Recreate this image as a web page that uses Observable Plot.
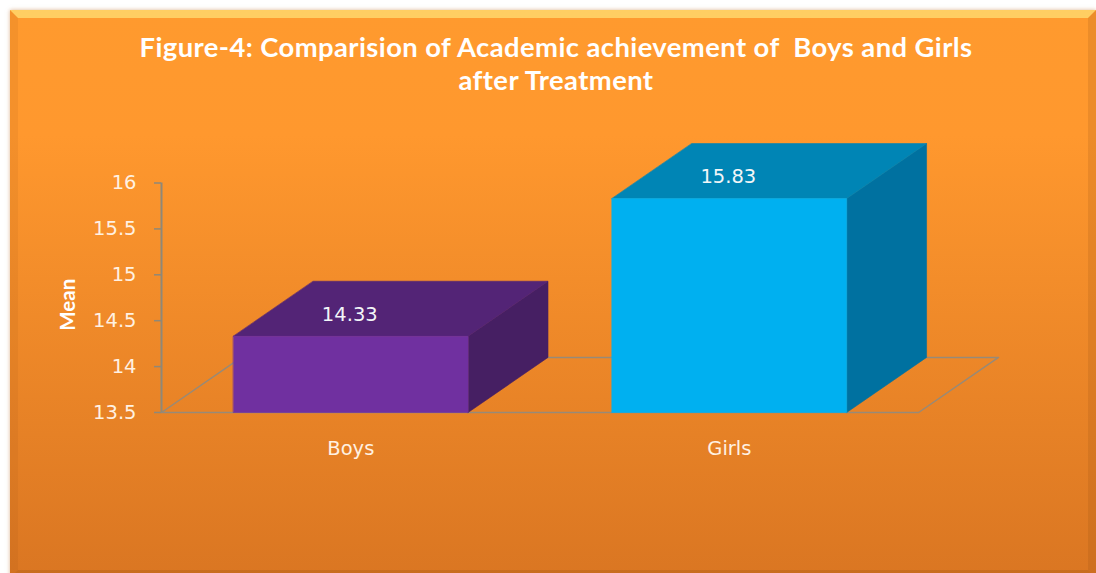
<!DOCTYPE html>
<html>
<head>
<meta charset="utf-8">
<script src="https://cdn.jsdelivr.net/npm/d3@7"></script>
<script src="https://cdn.jsdelivr.net/npm/@observablehq/plot@0.6"></script>
<style>
  html, body { margin: 0; padding: 0; width: 1096px; height: 573px; overflow: hidden; background: #fff; }
  #panel {
    position: absolute; left: 10px; top: 10px; width: 1086px; height: 568px; box-sizing: border-box;
    border-style: solid; border-width: 8px;
    border-top-color: rgba(255,238,130,.62);
    border-left-color: rgba(140,75,20,.10);
    border-right-color: rgba(140,75,20,.16);
    border-bottom-color: rgba(140,75,20,.22);
    background: linear-gradient(180deg, #ff9a2e 0%, #ff982e 22%, #da7622 100%) border-box;
    box-shadow: 0 0 4px rgba(190,120,60,.55);
  }
  #title {
    position: absolute; left: 16px; top: 30px; width: 1080px; text-align: center;
    font: 700 27.4px/33px Lato, sans-serif; color: #fff; white-space: pre; letter-spacing: .42px;
  }
  #chart { position: absolute; left: 0; top: 130px; }
  #chart svg { background: transparent; display: block; }
</style>
</head>
<body>
<div id="panel"></div>
<div id="title"></div>
<div id="chart"></div>
<script>
const titleLines = ["Figure-4: Comparision of Academic achievement of  Boys and Girls", "after Treatment"];
const categories = ["Boys", "Girls"];
const means = [14.33, 15.83];
const yTicks = [13.5, 14, 14.5, 15, 15.5, 16];
const yLabel = "Mean";
const frontColors = ["#7030a0", "#00b0f0"];
const topColors = ["#532476", "#0085b5"];
const sideColors = ["#461f63", "#0071a0"];

// 3-D projection of the chart, in data units
const barHalf = 0.31, depthX = 0.211, depthY = 0.6, base = 13.5;
const xMin = -0.5, xMax = 1.5;

const bars = categories.map((c, i) => ({c, i, v: means[i], l: i - barHalf, r: i + barHalf}));
const face = (color, pts) => pts.map(([x, y]) => ({x, y, color}));

const floor = [[xMin, base], [xMax, base], [xMax + depthX, base + depthY], [xMin + depthX, base + depthY], [xMin, base]]
  .map(([x, y]) => ({x, y}));

const faceMark = (pts, fill) => Plot.line(pts, {x: "x", y: "y", fill, stroke: fill, strokeWidth: 0.6, curve: "linear-closed"});

const marks = [
  Plot.line(floor, {x: "x", y: "y", stroke: "#978a78", strokeWidth: 1.5}),
  Plot.ruleX([xMin], {y1: base, y2: yTicks[yTicks.length - 1], stroke: "#8f8878", strokeWidth: 2}),
  Plot.axisY({
    ticks: yTicks, tickFormat: d => String(d), anchor: "left", tickSize: 7, tickPadding: 18,
    stroke: "#8f8878", strokeWidth: 1.5, fill: "#fff1e2", fontSize: 19.5,
    fontFamily: "DejaVu Sans", label: null
  }),
  Plot.axisX({
    ticks: [0, 1], tickFormat: i => categories[i], anchor: "bottom", tickSize: 0, tickPadding: 29,
    fill: "#fff1e2", fontSize: 19.5, fontFamily: "DejaVu Sans", label: null
  }),
  ...bars.flatMap(b => [
    faceMark(face(sideColors[b.i], [[b.r, base], [b.r + depthX, base + depthY], [b.r + depthX, b.v + depthY], [b.r, b.v]]), sideColors[b.i]),
    faceMark(face(topColors[b.i], [[b.l, b.v], [b.r, b.v], [b.r + depthX, b.v + depthY], [b.l + depthX, b.v + depthY]]), topColors[b.i]),
    faceMark(face(frontColors[b.i], [[b.l, base], [b.r, base], [b.r, b.v], [b.l, b.v]]), frontColors[b.i])
  ]),
  Plot.text(bars, {
    x: "i", y: "v", dy: -22, dx: -1, text: d => d.v.toFixed(2),
    fill: "#f2f6f8", fontSize: 19.5, fontFamily: "DejaVu Sans"
  }),
  Plot.text([yLabel], {
    frameAnchor: "left", textAnchor: "middle", dx: -93, dy: 7, rotate: -90, text: d => d,
    fill: "#ffffff", fontSize: 20.5, fontWeight: 700, fontFamily: "Lato"
  })
];

document.getElementById("title").textContent = titleLines.join("\n");
document.getElementById("chart").append(Plot.plot({
  width: 1096, height: 440,
  marginLeft: 161, marginRight: 98, marginTop: 52.5, marginBottom: 158,
  x: {type: "linear", domain: [xMin, xMax + depthX], axis: null},
  y: {type: "linear", domain: [base, yTicks[yTicks.length - 1]], axis: null},
  marks
}));
</script>
</body>
</html>
